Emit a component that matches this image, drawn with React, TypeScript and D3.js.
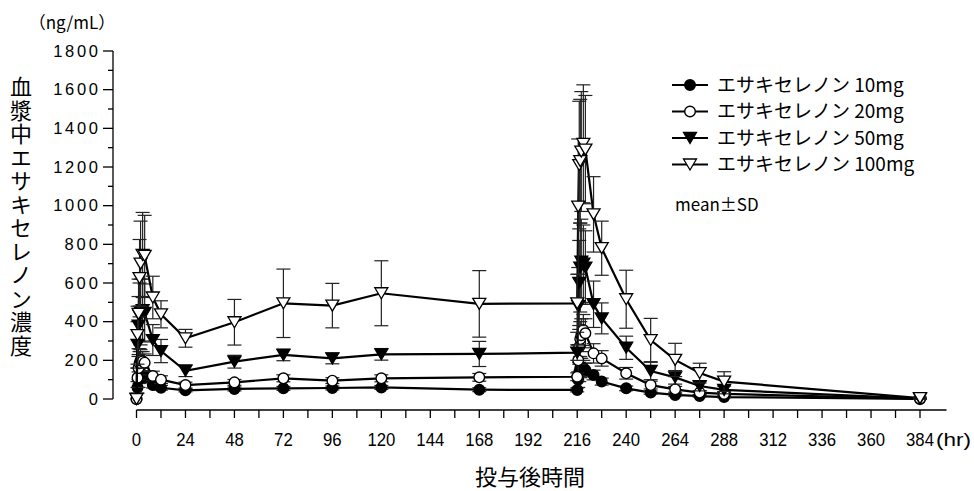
import React from "react";
import * as d3 from "d3";

const TIMES = [0, 0.5, 1, 1.5, 2, 3, 4, 8, 12, 24, 48, 72, 96, 120, 168, 216, 216.5, 217, 217.5, 218, 219, 220, 224, 228, 240, 252, 264, 276, 288, 384];

const MEAN_10 = [0, 60, 100, 120, 130, 125, 115, 72, 58, 45, 52, 55, 57, 60, 48, 47, 100, 140, 160, 165, 160, 150, 124, 90, 55, 33, 21, 15, 10, 0];
const SD_10 = [0, 30, 40, 40, 40, 35, 30, 15, 12, 8, 10, 10, 10, 10, 10, 10, 40, 50, 50, 45, 40, 35, 25, 18, 12, 8, 6, 5, 4, 0];

const MEAN_20 = [0, 110, 160, 185, 200, 195, 188, 119, 100, 72, 86, 107, 95, 107, 112, 115, 200, 270, 310, 330, 357, 340, 236, 210, 133, 72, 50, 33, 26, 1];
const SD_20 = [0, 50, 60, 60, 55, 50, 45, 25, 20, 15, 15, 18, 15, 18, 20, 20, 80, 90, 90, 85, 80, 75, 50, 40, 30, 20, 15, 10, 8, 1];

const MEAN_50 = [0, 280, 380, 430, 450, 460, 445, 305, 248, 146, 193, 228, 210, 231, 233, 240, 480, 600, 680, 710, 700, 680, 490, 417, 265, 145, 112, 67, 47, 2];
const SD_50 = [0, 120, 150, 170, 170, 160, 150, 80, 60, 30, 33, 30, 28, 30, 65, 40, 200, 220, 230, 220, 200, 190, 120, 80, 60, 45, 35, 25, 20, 2];

const MEAN_100 = [0, 330, 440, 625, 700, 745, 740, 525, 438, 314, 397, 495, 483, 547, 492, 495, 995, 1210, 1230, 1280, 1320, 1290, 955, 780, 516, 305, 202, 134, 90, 5];
const SD_100 = [0, 150, 180, 200, 220, 220, 210, 110, 70, 46, 118, 177, 115, 168, 172, 150, 350, 330, 320, 310, 305, 280, 195, 140, 150, 112, 86, 51, 51, 5];

const SERIES_NAMES = ["エサキセレノン 10mg", "エサキセレノン 20mg", "エサキセレノン 50mg", "エサキセレノン 100mg"];
const MARKERS = ["circleFilled", "circleOpen", "triFilled", "triOpen"];
const MEANS = [MEAN_10, MEAN_20, MEAN_50, MEAN_100];
const SDS = [SD_10, SD_20, SD_50, SD_100];

const Y_TICKS = [0, 200, 400, 600, 800, 1000, 1200, 1400, 1600, 1800];
const Y_MINOR = [100, 300, 500, 700, 900, 1100, 1300, 1500, 1700];
const X_LABELS = [0, 24, 48, 72, 96, 120, 144, 168, 192, 216, 240, 264, 288, 312, 336, 360, 384];
const Y_TITLE = "血漿中エサキセレノン濃度";
const X_TITLE = "投与後時間";
const Y_UNIT = "（ng/mL）";
const X_UNIT = "(hr)";
const NOTE = "mean±SD";

const JP = "'Noto Sans CJK JP', 'Noto Sans', sans-serif";
const LAT = "'Liberation Sans', Arial, sans-serif";

function Marker({ kind, x, y }: { kind: string; x: number; y: number }) {
  if (kind === "circleFilled" || kind === "circleOpen") {
    return (
      <circle cx={x} cy={y} r={5.3} fill={kind === "circleFilled" ? "#000" : "#fff"} stroke="#000" strokeWidth={1.4} />
    );
  }
  const p = `M${x - 6.5},${y - 5.5} L${x + 6.5},${y - 5.5} L${x},${y + 5.5} Z`;
  return <path d={p} fill={kind === "triFilled" ? "#000" : "#fff"} stroke="#000" strokeWidth={1.3} strokeLinejoin="miter" />;
}

export default function App() {
  const x = d3.scaleLinear().domain([0, 384]).range([136.5, 920]);
  const y = d3.scaleLinear().domain([0, 1800]).range([399, 51]);
  const line = d3
    .line<number>()
    .x((_, i) => x(TIMES[i]))
    .y((d) => y(d));

  const xTicks = d3.range(0, 385, 12);
  const axisY = 410;

  return (
    <svg width={974} height={491} style={{ position: "absolute", left: 0, top: 0, background: "#fff" }}>
      <rect x={0} y={0} width={974} height={491} fill="#fff" />
      {/* Y axis */}
      <line x1={113} x2={113} y1={y(1800)} y2={y(0)} stroke="#000" strokeWidth={1.3} />
      {Y_TICKS.map((t) => (
        <g key={"yt" + t}>
          <line x1={103} x2={113} y1={y(t)} y2={y(t)} stroke="#000" strokeWidth={1.3} />
          <text
            x={98}
            y={y(t) + 5.8}
            textAnchor="end"
            fontFamily={LAT}
            fontWeight={400}
            fontSize={16.5}
            textLength={String(t).length * 11.2}
            lengthAdjust="spacing"
          >
            {t}
          </text>
        </g>
      ))}
      {Y_MINOR.map((t) => (
        <line key={"ym" + t} x1={108} x2={113} y1={y(t)} y2={y(t)} stroke="#000" strokeWidth={1.3} />
      ))}
      <text x={72} y={29} textAnchor="middle" fontFamily={JP} fontSize={17}>
        {Y_UNIT}
      </text>
      <text
        x={21}
        y={76}
        fontFamily={JP}
        fontSize={22}
        letterSpacing={1.5}
        style={{ writingMode: "vertical-rl" }}
      >
        {Y_TITLE}
      </text>

      {/* X axis */}
      <line x1={x(0)} x2={x(397)} y1={axisY} y2={axisY} stroke="#000" strokeWidth={1.3} />
      {xTicks.map((t) => (
        <line key={"xt" + t} x1={x(t)} x2={x(t)} y1={axisY} y2={axisY + 8} stroke="#000" strokeWidth={1.3} />
      ))}
      {X_LABELS.map((t) => (
        <text
          key={"xl" + t}
          x={x(t)}
          y={446}
          textAnchor="middle"
          fontFamily={LAT}
          fontWeight={400}
          fontSize={19}
          textLength={String(t).length * 9.3}
          lengthAdjust="spacingAndGlyphs"
        >
          {t}
        </text>
      ))}
      <text x={936} y={446} fontFamily={LAT} fontWeight={400} fontSize={19} textLength={35} lengthAdjust="spacingAndGlyphs">
        {X_UNIT}
      </text>
      <text x={530} y={485} textAnchor="middle" fontFamily={JP} fontSize={22}>
        {X_TITLE}
      </text>

      {/* Series */}
      {MEANS.map((m, si) => (
        <g key={"s" + si}>
          <path d={line(m) || ""} fill="none" stroke="#000" strokeWidth={2.2} />
          {m.map((v, i) =>
            SDS[si][i] > 0 ? (
              <g key={"e" + i} stroke="#222" strokeWidth={1.2}>
                <line x1={x(TIMES[i])} x2={x(TIMES[i])} y1={y(v + SDS[si][i])} y2={y(Math.max(0, v - SDS[si][i]))} />
                <line x1={x(TIMES[i]) - 7} x2={x(TIMES[i]) + 7} y1={y(v + SDS[si][i])} y2={y(v + SDS[si][i])} />
                <line
                  x1={x(TIMES[i]) - 7}
                  x2={x(TIMES[i]) + 7}
                  y1={y(Math.max(0, v - SDS[si][i]))}
                  y2={y(Math.max(0, v - SDS[si][i]))}
                />
              </g>
            ) : null
          )}
          {m.map((v, i) => (
            <Marker key={"m" + i} kind={MARKERS[si]} x={x(TIMES[i])} y={y(v)} />
          ))}
        </g>
      ))}

      {/* Legend */}
      {SERIES_NAMES.map((n, i) => {
        const ly = 85 + i * 26.5;
        return (
          <g key={"lg" + i}>
            <line x1={672} x2={708} y1={ly} y2={ly} stroke="#000" strokeWidth={2.2} />
            <Marker kind={MARKERS[i]} x={690} y={ly} />
            <text x={717} y={ly + 6.5} fontFamily={JP} fontSize={19}>
              {n}
            </text>
          </g>
        );
      })}
      <text x={675} y={211} fontFamily={JP} fontSize={17}>
        {NOTE}
      </text>
    </svg>
  );
}
